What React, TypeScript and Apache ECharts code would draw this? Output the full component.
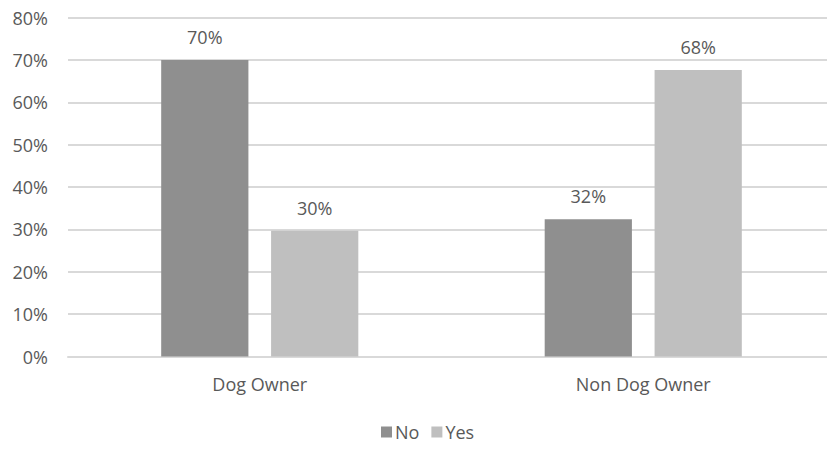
import React, { useEffect, useRef } from "react";
import * as echarts from "echarts";

const categories = ["Dog Owner", "Non Dog Owner"];
const noValues = [70.0, 32.4];
const yesValues = [29.7, 67.6];
const seriesNames = ["No", "Yes"];

const FONT = "'Open Sans', sans-serif";
const TEXT = "#595959";
const FS = 18;

export default function App() {
  const ref = useRef<HTMLDivElement>(null);
  useEffect(() => {
    document.body.style.margin = "0";
    document.body.style.overflow = "hidden";
    const chart = echarts.init(ref.current!, null, { renderer: "svg" });
    const label = {
      show: true,
      position: "top" as const,
      distance: 14,
      color: TEXT,
      fontSize: FS,
      fontFamily: FONT,
      formatter: (p: any) => Math.round(p.value) + "%",
    };
    chart.setOption({
      animation: false,
      textStyle: { fontFamily: FONT },
      grid: { left: 68, right: 0, top: 17.5, bottom: 109.5, containLabel: false },
      legend: {
        bottom: 20,
        left: 376,
        itemWidth: 11,
        itemHeight: 11,
        itemGap: 12,
        icon: "rect",
        textStyle: { color: TEXT, fontSize: FS, fontFamily: FONT, padding: [0, 0, 0, -2] },
        data: seriesNames,
      },
      xAxis: {
        type: "category",
        data: categories,
        axisLine: { show: true, lineStyle: { color: "#d9d9d9", width: 2 } },
        axisTick: { show: false },
        axisLabel: { color: TEXT, fontSize: FS, fontFamily: FONT, margin: 18 },
      },
      yAxis: {
        type: "value",
        min: 0,
        max: 80,
        interval: 10,
        axisLine: { show: false },
        axisTick: { show: false },
        splitLine: { lineStyle: { color: "#d9d9d9", width: 2 } },
        axisLabel: { color: TEXT, fontSize: FS, fontFamily: FONT, margin: 20, formatter: "{value}%" },
      },
      series: [
        {
          name: seriesNames[0],
          type: "bar",
          data: noValues,
          itemStyle: { color: "#8f8f8f" },
          barGap: "26%",
          barCategoryGap: "48.6%",
          label,
        },
        {
          name: seriesNames[1],
          type: "bar",
          data: yesValues,
          itemStyle: { color: "#bfbfbf" },
          barGap: "26%",
          barCategoryGap: "48.6%",
          label,
        },
      ],
    });
    return () => chart.dispose();
  }, []);
  return <div ref={ref} style={{ width: 835, height: 466 }} />;
}
